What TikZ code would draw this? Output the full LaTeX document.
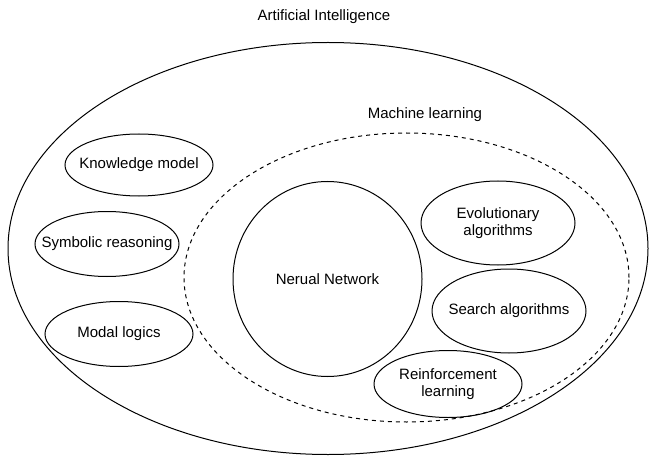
\documentclass[tikz,border=0pt]{standalone}
\usepackage{fontspec}
\setmainfont{Liberation Sans}
\usetikzlibrary{shapes.geometric, positioning}
\tikzset{
  lbl/.style={font=\fontsize{15}{17}\selectfont, align=center, inner sep=0pt},
  bubble/.style={draw, line width=1pt},
  mlborder/.style={draw, line width=1pt, dash pattern=on 4pt off 4pt},
}

\begin{document}
\begin{tikzpicture}[x=1pt, y=-1pt]
    \useasboundingbox (0,0) rectangle (650,457);

    % Artificial Intelligence
    \node[lbl] (ailbl) at (324,17) {Artificial Intelligence};
    \coordinate (ai) at (328,248.5);
    \draw[bubble] (ai) ellipse [x radius=320pt, y radius=206pt];

    % Machine learning
    \node[lbl] (mllbl) at (425,115) {Machine learning};
    \coordinate (ml) at (406.5,277.5);
    \draw[mlborder] (ml) ellipse [x radius=222.5pt, y radius=144.5pt];

    % Symbolic side
    \node[lbl] (know) at (139,165) {Knowledge model};
    \draw[bubble] (know.center) ellipse [x radius=74pt, y radius=31pt];
    \node[lbl] (symb) at (107,244) {Symbolic reasoning};
    \draw[bubble] (symb.center) ellipse [x radius=72pt, y radius=32.5pt];
    \node[lbl] (modal) at (119,334) {Modal logics};
    \draw[bubble] (modal.center) ellipse [x radius=74pt, y radius=32.5pt];

    % Inside machine learning
    \node[lbl] (nn) at (327.5,279) {Nerual Network};
    \draw[bubble] (nn.center) ellipse [x radius=94.5pt, y radius=97.5pt];
    \node[lbl] (evo) at (498,223) {Evolutionary\\algorithms};
    \draw[bubble] (evo.center) ellipse [x radius=77pt, y radius=42pt];
    \node[lbl] (search) at (509,311) {Search algorithms};
    \draw[bubble] (search.center) ellipse [x radius=77pt, y radius=42pt];
    \node[lbl] (reinf) at (448,384) {Reinforcement\\learning};
    \draw[bubble] (reinf.center) ellipse [x radius=74pt, y radius=33.5pt];
\end{tikzpicture}
\end{document}
